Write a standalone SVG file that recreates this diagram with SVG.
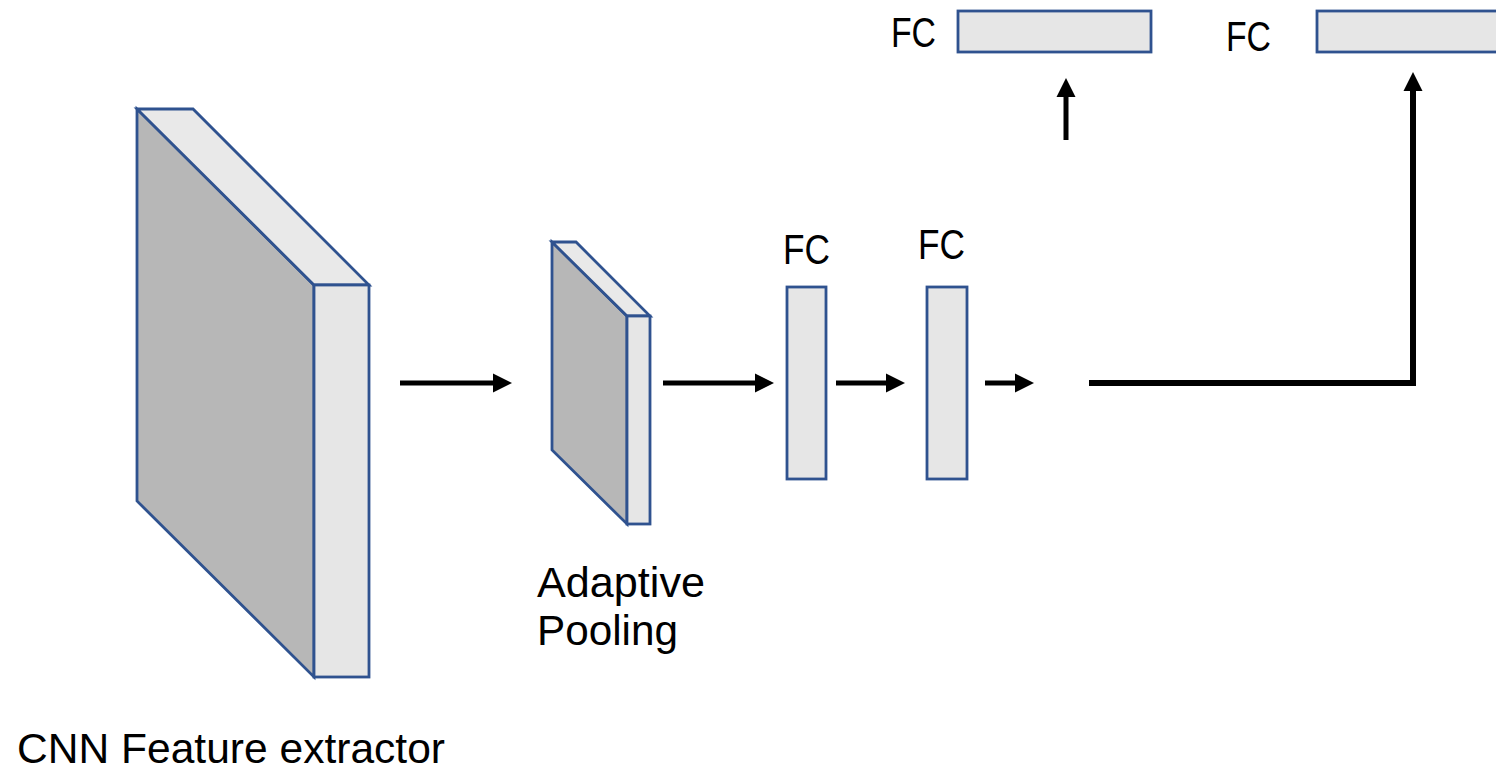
<svg xmlns="http://www.w3.org/2000/svg" width="1496" height="773" viewBox="0 0 1496 773">
<style>
  .edge{stroke:#2F528F;stroke-width:2.8;stroke-linejoin:miter}
  .front{fill:#B7B7B7}
  .top{fill:#E9E9E9}
  .side{fill:#E6E6E6}
  .fc{fill:#E6E6E6}
  .lbl{font-family:"Liberation Sans",Arial,sans-serif;fill:#000}
  .arr{stroke:#000;stroke-width:5;fill:none}
  .thick{stroke-width:6}
</style>
<defs>
  <marker id="ah" markerUnits="userSpaceOnUse" markerWidth="20" markerHeight="20" refX="0" refY="9.5" orient="auto" overflow="visible">
    <path d="M0,0 L19,9.5 L0,19 Z" fill="#000"/>
  </marker>
</defs>
<rect width="1496" height="773" fill="#fff"/>

<g id="cnn-block">
  <polygon class="front edge" points="137,109 314,285 314,677 137,501"/>
  <polygon class="top edge" points="137,109 193,109 369,285 314,285"/>
  <rect class="side edge" x="314" y="285" width="55" height="392"/>
</g>

<g id="adaptive-pool">
  <polygon class="front edge" points="552,242 627,316 627,524 552,450"/>
  <polygon class="top edge" points="552,242 576,242 650,316 627,316"/>
  <rect class="side edge" x="627" y="316" width="23" height="208"/>
</g>

<g id="fc1">
  <rect class="fc edge" x="787" y="287" width="39" height="192"/>
  <text class="lbl" x="783" y="264" font-size="42" textLength="47" lengthAdjust="spacingAndGlyphs">FC</text>
</g>
<g id="fc2">
  <rect class="fc edge" x="927" y="287" width="40" height="192"/>
  <text class="lbl" x="918" y="259" font-size="42" textLength="47" lengthAdjust="spacingAndGlyphs">FC</text>
</g>
<g id="fc-head1">
  <rect class="fc edge" x="958" y="11" width="193" height="41"/>
  <text class="lbl" x="891" y="47" font-size="42" textLength="45" lengthAdjust="spacingAndGlyphs">FC</text>
</g>
<g id="fc-head2">
  <rect class="fc edge" x="1317" y="11" width="200" height="41"/>
  <text class="lbl" x="1226" y="51" font-size="42" textLength="45" lengthAdjust="spacingAndGlyphs">FC</text>
</g>

<g id="labels">
  <text class="lbl" x="537" y="597" font-size="42" textLength="168" lengthAdjust="spacingAndGlyphs">Adaptive</text>
  <text class="lbl" x="537" y="645" font-size="42" textLength="141" lengthAdjust="spacingAndGlyphs">Pooling</text>
  <text class="lbl" x="17" y="763" font-size="42" textLength="428" lengthAdjust="spacingAndGlyphs">CNN Feature extractor</text>
</g>

<g id="connectors">
  <line class="arr" x1="400" y1="383" x2="493" y2="383" marker-end="url(#ah)"/>
  <line class="arr" x1="663" y1="383" x2="755" y2="383" marker-end="url(#ah)"/>
  <line class="arr" x1="836" y1="383" x2="886" y2="383" marker-end="url(#ah)"/>
  <line class="arr" x1="985" y1="383" x2="1015" y2="383" marker-end="url(#ah)"/>
  <line class="arr" x1="1066" y1="140" x2="1066" y2="97" marker-end="url(#ah)"/>
  <polyline class="arr thick" points="1089,383 1413,383 1413,91" marker-end="url(#ah)"/>
</g>
</svg>
